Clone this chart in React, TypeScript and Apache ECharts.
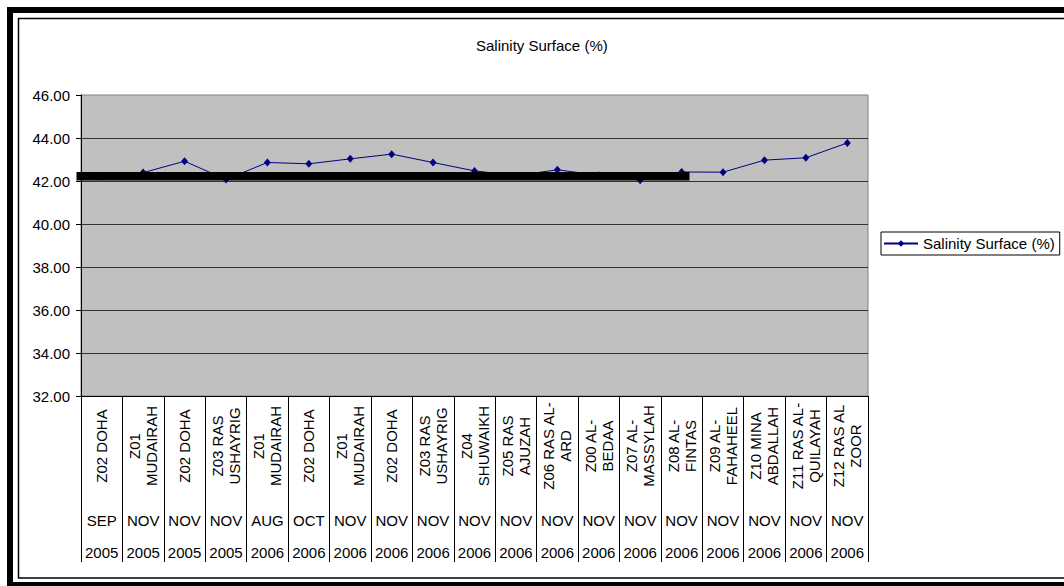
import React, { useEffect, useRef } from "react";
import * as echarts from "echarts";

// Sampling stations (first category level, shown rotated)
const stations: string[] = [
  "Z02 DOHA",
  "Z01\nMUDAIRAH",
  "Z02 DOHA",
  "Z03 RAS\nUSHAYRIG",
  "Z01\nMUDAIRAH",
  "Z02 DOHA",
  "Z01\nMUDAIRAH",
  "Z02 DOHA",
  "Z03 RAS\nUSHAYRIG",
  "Z04\nSHUWAIKH",
  "Z05 RAS\nAJUZAH",
  "Z06 RAS AL-\nARD",
  "Z00 AL-\nBEDAA",
  "Z07 AL-\nMASSYLAH",
  "Z08 AL-\nFINTAS",
  "Z09 AL-\nFAHAHEEL",
  "Z10 MINA\nABDALLAH",
  "Z11 RAS AL-\nQUILAYAH",
  "Z12 RAS AL\nZOOR",
];

// Sampling month (second level)
const months: string[] = [
  "SEP", "NOV", "NOV", "NOV", "AUG", "OCT", "NOV", "NOV", "NOV", "NOV",
  "NOV", "NOV", "NOV", "NOV", "NOV", "NOV", "NOV", "NOV", "NOV",
];

// Sampling year (third level)
const years: string[] = [
  "2005", "2005", "2005", "2005", "2006", "2006", "2006", "2006", "2006", "2006",
  "2006", "2006", "2006", "2006", "2006", "2006", "2006", "2006", "2006",
];

// Surface salinity readings
const salinitySurface: number[] = [
  42.22, 42.39, 42.92, 42.07, 42.86, 42.8, 43.03, 43.25, 42.86, 42.47,
  42.25, 42.52, 42.27, 42.04, 42.42, 42.41, 42.97, 43.08, 43.77,
];

const yTicks = { min: 32, max: 46, interval: 2 };

const SERIES_NAME = "Salinity Surface (%)";
const FONT = "'Liberation Sans', Arial, sans-serif";

export default function App() {
  const ref = useRef<HTMLDivElement>(null);

  useEffect(() => {
    if (!ref.current) return;
    const chart = echarts.init(ref.current, undefined, { renderer: "svg" });

    const labelBase = { color: "#000", fontSize: 15, fontFamily: FONT };

    chart.setOption({
      animation: false,
      backgroundColor: "#fff",
      textStyle: { fontFamily: FONT },
      title: {
        text: SERIES_NAME,
        left: 476,
        top: 38,
        padding: 0,
        textStyle: { ...labelBase, fontWeight: "normal" },
      },
      legend: {
        data: [SERIES_NAME],
        left: 881,
        top: 232,
        padding: [4, 5, 4, 2],
        itemWidth: 34,
        itemHeight: 8,
        borderColor: "#000",
        borderWidth: 1,
        borderRadius: 0,
        backgroundColor: "#fff",
        textStyle: labelBase,
      },
      grid: {
        left: 81,
        top: 95,
        width: 787,
        height: 301,
        show: true,
        backgroundColor: "#C0C0C0",
        borderColor: "#808080",
        borderWidth: 1,
      },
      xAxis: [
        {
          type: "category",
          data: stations,
          boundaryGap: true,
          axisLine: { show: true, lineStyle: { color: "#000", width: 1 } },
          axisTick: {
            show: true,
            interval: 0,
            length: 166,
            lineStyle: { color: "#000", width: 1 },
          },
          axisLabel: {
            ...labelBase,
            interval: 0,
            rotate: 90,
            align: "center",
            verticalAlign: "middle",
            margin: 50,
            lineHeight: 17,
          },
          splitLine: { show: false },
        },
        {
          type: "category",
          data: months,
          position: "bottom",
          offset: 124,
          axisLine: { show: false },
          axisTick: { show: false },
          axisLabel: {
            ...labelBase,
            interval: 0,
            margin: 0,
            verticalAlign: "middle",
          },
          splitLine: { show: false },
        },
        {
          type: "category",
          data: years,
          position: "bottom",
          offset: 156,
          axisLine: { show: false },
          axisTick: { show: false },
          axisLabel: {
            ...labelBase,
            interval: 0,
            margin: 0,
            verticalAlign: "middle",
          },
          splitLine: { show: false },
        },
      ],
      yAxis: {
        type: "value",
        min: yTicks.min,
        max: yTicks.max,
        interval: yTicks.interval,
        axisLine: { show: true, lineStyle: { color: "#000", width: 1 } },
        axisTick: { show: true, length: 5, lineStyle: { color: "#000" } },
        axisLabel: {
          ...labelBase,
          margin: 11,
          formatter: (v: number) => v.toFixed(2),
        },
        splitLine: {
          show: true,
          showMaxLine: false,
          lineStyle: { color: "#333", width: 1 },
        },
      },
      series: [
        {
          name: SERIES_NAME,
          type: "line",
          xAxisIndex: 0,
          data: salinitySurface,
          color: "#000080",
          symbol: "diamond",
          symbolSize: [7, 8],
          showSymbol: true,
          lineStyle: { color: "#000080", width: 1 },
          itemStyle: { color: "#000080" },
          z: 3,
        },
      ],
      graphic: [
        // outer heavy frame
        {
          type: "rect",
          silent: true,
          shape: { x: 10, y: 10, width: 1070, height: 575 },
          style: { fill: "none", stroke: "#000", lineWidth: 6 },
          z: 50,
        },
        // inner thin frame
        {
          type: "rect",
          silent: true,
          shape: { x: 18.5, y: 18.5, width: 1060, height: 559.5 },
          style: { fill: "none", stroke: "#000", lineWidth: 1.5 },
          z: 50,
        },
        // heavy black marker bar across the plot
        {
          type: "rect",
          silent: true,
          shape: { x: 76.5, y: 172, width: 613, height: 8.5 },
          style: { fill: "#000" },
          z: 100,
        },
      ],
    });

    return () => chart.dispose();
  }, []);

  return (
    <div
      ref={ref}
      style={{ position: "fixed", left: 0, top: 0, width: 1064, height: 586 }}
    />
  );
}
